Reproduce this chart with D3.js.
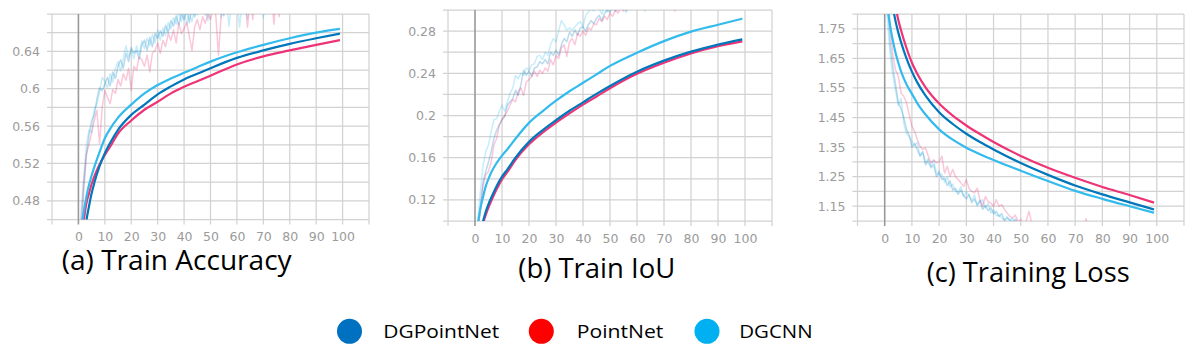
<!DOCTYPE html>
<html><head><meta charset="utf-8">
<script src="https://cdn.jsdelivr.net/npm/d3@7"></script>
<style>body{margin:0;background:#fff}svg{display:block;background:#fff}</style>
</head><body><svg id="chart" width="1198" height="358"></svg>
<script>
// ---------- data ----------
const seriesNames = ["DGPointNet", "PointNet", "DGCNN"];
const legendColors = ["#0070C0", "#FF0000", "#00B0F0"];
const lineColors = ["#0077BB", "#EE3377", "#33BBEE"];
const panelTitles = ["(a) Train Accuracy", "(b) Train IoU", "(c) Training Loss"];
const xTickLabels = [0, 10, 20, 30, 40, 50, 60, 70, 80, 90, 100];
const accTickLabels = [0.48, 0.52, 0.56, 0.6, 0.64];
const iouTickLabels = [0.12, 0.16, 0.2, 0.24, 0.28];
const lossTickLabels = [1.15, 1.25, 1.35, 1.45, 1.55, 1.65, 1.75];

// smoothed curves (read at selected epochs)
const smoothEpochs = [0,1,2,3,4,5,6,8,10,12,15,20,25,30,35,40,45,50,60,70,80,90,99];
const accDGPointNet = [0.36,0.40,0.43,0.458,0.474,0.488,0.499,0.517,0.531,0.542,0.556,0.572,0.583,0.594,0.6025,0.610,0.616,0.622,0.633,0.641,0.648,0.654,0.659];
const accPointNet   = [0.39,0.43,0.458,0.477,0.488,0.498,0.506,0.519,0.529,0.538,0.552,0.566,0.5775,0.586,0.595,0.602,0.608,0.614,0.626,0.6346,0.641,0.647,0.652];
const accDGCNN      = [0.40,0.445,0.468,0.484,0.497,0.507,0.516,0.532,0.547,0.557,0.569,0.583,0.595,0.604,0.611,0.617,0.623,0.629,0.639,0.647,0.654,0.660,0.664];

const iouDGPointNet = [0.06,0.075,0.09,0.1,0.109,0.116,0.122,0.133,0.142,0.149,0.16,0.175,0.186,0.1955,0.2045,0.2125,0.2205,0.228,0.2415,0.252,0.2605,0.2672,0.2722];
const iouPointNet   = [0.06,0.074,0.088,0.098,0.106,0.113,0.119,0.13,0.1395,0.1465,0.158,0.1727,0.1837,0.1932,0.202,0.2103,0.218,0.2258,0.2395,0.25,0.2588,0.2656,0.2702];
const iouDGCNN      = [0.08,0.096,0.112,0.123,0.133,0.14,0.146,0.155,0.162,0.168,0.178,0.193,0.204,0.214,0.223,0.231,0.239,0.247,0.2595,0.2705,0.2795,0.286,0.2918];

const lossEpochs = [0,1,2,3,4,5,6,8,10,12,15,20,25,30,35,40,50,60,70,80,90,99];
const lossDGPointNet = [2.05,1.97,1.9,1.825,1.775,1.737,1.705,1.65,1.605,1.568,1.524,1.468,1.428,1.395,1.367,1.342,1.296,1.256,1.22,1.19,1.163,1.139];
const lossPointNet   = [2.1,2.02,1.95,1.88,1.825,1.78,1.745,1.685,1.635,1.597,1.552,1.497,1.456,1.423,1.394,1.367,1.32,1.28,1.246,1.215,1.188,1.162];
const lossDGCNN      = [1.95,1.83,1.76,1.71,1.668,1.635,1.606,1.562,1.53,1.498,1.46,1.41,1.375,1.348,1.326,1.306,1.27,1.235,1.202,1.175,1.15,1.128];

// raw (unsmoothed) per-epoch values, starting at epoch 0
const accRawDGPointNet = [0.38,0.44,0.49,0.528,0.55,0.566,0.572,0.589,0.601,0.598,0.605,0.612,0.603,0.618,0.611,0.624,0.631,0.622,0.638,0.629,0.644,0.638,0.641,0.632,0.647,0.652,0.641,0.655,0.645,0.659,0.654,0.662,0.656,0.668,0.66,0.673,0.667,0.678,0.668,0.681,0.674,0.684,0.671,0.686,0.677,0.688,0.682,0.691,0.679,0.693,0.686,0.681,0.694,0.687,0.696,0.678,0.692,0.699,0.689,0.7,0.694,0.702,0.687,0.703,0.696,0.705,0.697,0.707,0.7,0.709,0.702,0.71,0.698,0.712,0.705,0.713,0.706,0.715,0.708,0.716];
const accRawPointNet = [0.41,0.455,0.5,0.53,0.54,0.553,0.566,0.577,0.541,0.58,0.598,0.591,0.584,0.599,0.595,0.61,0.603,0.616,0.609,0.622,0.598,0.624,0.62,0.634,0.631,0.624,0.636,0.618,0.638,0.641,0.649,0.638,0.652,0.645,0.659,0.652,0.663,0.649,0.67,0.659,0.664,0.671,0.656,0.641,0.666,0.674,0.663,0.677,0.67,0.68,0.674,0.686,0.679,0.636,0.677,0.688,0.684,0.692,0.686,0.694,0.688,0.696,0.69,0.698,0.666,0.695,0.674,0.7,0.694,0.703,0.697,0.705,0.699,0.706,0.669,0.702,0.677,0.708,0.701,0.71];
const accRawDGCNN = [0.40,0.47,0.505,0.54,0.556,0.553,0.578,0.583,0.596,0.612,0.608,0.601,0.616,0.607,0.622,0.629,0.619,0.633,0.646,0.634,0.642,0.632,0.646,0.637,0.651,0.643,0.654,0.646,0.658,0.649,0.663,0.652,0.665,0.657,0.671,0.664,0.676,0.669,0.683,0.672,0.684,0.669,0.68,0.672,0.687,0.679,0.69,0.681,0.691,0.673,0.689,0.693,0.684,0.696,0.676,0.691,0.697,0.667,0.694,0.688,0.699,0.666,0.692,0.696,0.675,0.698,0.69,0.703,0.693,0.706,0.676,0.699,0.707,0.698,0.709,0.701,0.711,0.703,0.712,0.706];

const iouRawDGPointNet = [0.07,0.09,0.115,0.137,0.147,0.156,0.166,0.178,0.186,0.191,0.196,0.199,0.21,0.213,0.216,0.224,0.219,0.229,0.243,0.238,0.242,0.237,0.245,0.246,0.251,0.249,0.253,0.249,0.26,0.257,0.262,0.257,0.267,0.273,0.27,0.279,0.275,0.281,0.276,0.283,0.284,0.28,0.286,0.29,0.287,0.292,0.295,0.29,0.297,0.3,0.298,0.303,0.299,0.305,0.301,0.307,0.298,0.308,0.304,0.31,0.306,0.312,0.308,0.314,0.31,0.315];
const iouRawPointNet = [0.07,0.088,0.109,0.134,0.144,0.147,0.156,0.172,0.178,0.191,0.196,0.2,0.204,0.21,0.215,0.213,0.223,0.226,0.219,0.232,0.234,0.237,0.242,0.237,0.243,0.24,0.245,0.242,0.253,0.248,0.257,0.254,0.264,0.267,0.256,0.27,0.273,0.267,0.278,0.275,0.28,0.276,0.283,0.281,0.287,0.286,0.292,0.289,0.294,0.291,0.297,0.294,0.3,0.297,0.303,0.299,0.305,0.302,0.307,0.304,0.309,0.306,0.311,0.308,0.313,0.31,0.315,0.312,0.316,0.313,0.318,0.315,0.319,0.316,0.299,0.318];
const iouRawDGCNN = [0.07,0.1,0.128,0.153,0.166,0.172,0.185,0.196,0.197,0.204,0.21,0.204,0.213,0.221,0.226,0.238,0.235,0.24,0.238,0.245,0.243,0.248,0.249,0.256,0.257,0.253,0.26,0.257,0.267,0.273,0.27,0.28,0.29,0.286,0.281,0.283,0.281,0.284,0.287,0.289,0.284,0.295,0.298,0.302,0.299,0.304,0.301,0.296,0.305,0.298,0.307,0.303,0.309,0.305,0.311,0.307,0.313,0.309,0.315,0.311,0.316,0.312,0.318,0.299,0.317,0.3,0.319,0.315,0.321];

const lossRawDGPointNet = [2.05,1.85,1.7,1.62,1.56,1.5,1.48,1.45,1.41,1.39,1.35,1.362,1.34,1.32,1.335,1.29,1.31,1.28,1.29,1.25,1.268,1.24,1.245,1.22,1.235,1.205,1.21,1.19,1.205,1.185,1.175,1.19,1.162,1.175,1.155,1.17,1.14,1.152,1.135,1.145,1.125,1.133,1.115,1.125,1.1,1.11,1.105,1.095,1.106,1.09,1.088,1.092,1.082,1.086,1.078,1.08];
const lossRawPointNet = [2.1,1.9,1.76,1.66,1.61,1.59,1.533,1.522,1.5,1.46,1.42,1.403,1.375,1.353,1.342,1.347,1.32,1.297,1.307,1.297,1.3,1.319,1.262,1.285,1.251,1.274,1.25,1.24,1.229,1.217,1.24,1.21,1.2,1.195,1.211,1.172,1.15,1.183,1.165,1.161,1.15,1.172,1.15,1.155,1.14,1.127,1.116,1.11,1.12,1.098,1.105,1.092,1.1,1.133,1.095,1.09,1.085,1.092,1.082,1.088,1.079,1.085,1.076,1.083,1.074,1.08,1.072,1.078,1.07,1.076,1.068,1.074,1.066,1.072,1.108,1.07,1.064];
const lossRawDGCNN = [2.0,1.78,1.66,1.59,1.54,1.49,1.515,1.43,1.395,1.385,1.37,1.355,1.366,1.32,1.33,1.30,1.295,1.285,1.305,1.265,1.255,1.258,1.23,1.25,1.215,1.224,1.2,1.199,1.216,1.182,1.199,1.185,1.17,1.188,1.15,1.165,1.172,1.144,1.16,1.127,1.138,1.118,1.12,1.11,1.104,1.115,1.098,1.109,1.095,1.09,1.097,1.085,1.088,1.08,1.083,1.076];

// ---------- layout ----------
const panels = [
  { title: panelTitles[0], x0: 52, x1: 369, y0: 14, y1: 219.5, domain: [0.46, 0.68], gridStep: 0.02,
    ticks: accTickLabels, fmt: d3.format(".2~f"), epochs: smoothEpochs,
    smooth: [accDGPointNet, accPointNet, accDGCNN], raw: [accRawDGPointNet, accRawPointNet, accRawDGCNN],
    tx: 61.7, ty: 270, tw: 230 },
  { title: panelTitles[1], x0: 448, x1: 772, y0: 10, y1: 221, domain: [0.10, 0.30], gridStep: 0.02,
    ticks: iouTickLabels, fmt: d3.format(".2~f"), epochs: smoothEpochs,
    smooth: [iouDGPointNet, iouPointNet, iouDGCNN], raw: [iouRawDGPointNet, iouRawPointNet, iouRawDGCNN],
    tx: 518.3, ty: 278, tw: 157 },
  { title: panelTitles[2], x0: 857.5, x1: 1184, y0: 14, y1: 221, domain: [1.10, 1.80], gridStep: 0.05,
    ticks: lossTickLabels, fmt: d3.format(".2f"), epochs: lossEpochs,
    smooth: [lossDGPointNet, lossPointNet, lossDGCNN], raw: [lossRawDGPointNet, lossRawPointNet, lossRawDGCNN],
    tx: 926.7, ty: 282, tw: 203 }
];

const svg = d3.select("#chart");
const tickFont = "DejaVu Sans, sans-serif";
const drawOrder = [1, 0, 2];

panels.forEach((p, pi) => {
  const x = d3.scaleLinear().domain([-10, 110]).range([p.x0, p.x1]);
  const y = d3.scaleLinear().domain(p.domain).range([p.y1, p.y0]);
  const g = svg.append("g");

  // grid
  const nH = Math.round((p.domain[1] - p.domain[0]) / p.gridStep);
  const hVals = d3.range(nH + 1).map(i => p.domain[0] + i * p.gridStep);
  g.selectAll(".hg").data(hVals).join("line")
    .attr("x1", p.x0 - 5).attr("x2", p.x1)
    .attr("y1", d => y(d)).attr("y2", d => y(d))
    .attr("stroke", "#d2d2d2").attr("stroke-width", 1.25);
  const vVals = d3.range(-10, 111, 10);
  g.selectAll(".vg").data(vVals).join("line")
    .attr("x1", d => x(d)).attr("x2", d => x(d))
    .attr("y1", p.y0).attr("y2", p.y1 + 5)
    .attr("stroke", d => d === 0 ? "#999999" : "#d2d2d2")
    .attr("stroke-width", d => d === 0 ? 1.6 : 1.25);

  // clip
  const cid = "clip" + pi;
  svg.append("defs").append("clipPath").attr("id", cid)
    .append("rect").attr("x", p.x0).attr("y", p.y0).attr("width", p.x1 - p.x0).attr("height", p.y1 - p.y0);
  const plot = g.append("g").attr("clip-path", `url(#${cid})`);

  const rawLine = d3.line().x(d => x(d[0])).y(d => y(d[1]));
  const smLine = d3.line().x(d => x(d[0])).y(d => y(d[1])).curve(d3.curveMonotoneX);

  [0, 2, 1].forEach(si => {
    plot.append("path").datum(p.raw[si].map((v, i) => [i, v]))
      .attr("d", rawLine).attr("fill", "none")
      .attr("stroke", lineColors[si]).attr("stroke-opacity", 0.27).attr("stroke-width", 1.5)
      .attr("stroke-linejoin", "round");
  });
  drawOrder.forEach(si => {
    plot.append("path").datum(p.epochs.map((e, i) => [e, p.smooth[si][i]]))
      .attr("d", smLine).attr("fill", "none")
      .attr("stroke", lineColors[si]).attr("stroke-width", 2.2)
      .attr("stroke-linejoin", "round");
  });

  // axes labels
  const yAxis = d3.axisLeft(y).tickValues(p.ticks).tickFormat(p.fmt).tickSize(0).tickPadding(12);
  const ya = g.append("g").attr("transform", `translate(${p.x0},0)`).call(yAxis);
  ya.select(".domain").remove();
  ya.selectAll("text").attr("fill", "#9b9b9b").style("font-family", tickFont).style("font-size", "12.5px");

  const xAxis = d3.axisBottom(x).tickValues(xTickLabels).tickFormat(d3.format("d")).tickSize(0).tickPadding(13);
  const xa = g.append("g").attr("transform", `translate(0,${p.y1})`).call(xAxis);
  xa.select(".domain").remove();
  xa.selectAll("text").attr("fill", "#9b9b9b").style("font-family", tickFont).style("font-size", "12.5px");

  // title
  svg.append("text").attr("x", p.tx).attr("y", p.ty).text(p.title)
    .attr("textLength", p.tw).attr("lengthAdjust", "spacingAndGlyphs")
    .style("font-family", "Open Sans, sans-serif").style("font-size", "27px").attr("fill", "#000");
});

// legend
const legendCircleX = [349.5, 541.3, 707];
const legendTextX = [383.3, 576.7, 739.3];
const legendTextW = [116, 86.7, 73.3];
const lg = svg.append("g");
seriesNames.forEach((n, i) => {
  lg.append("circle").attr("cx", legendCircleX[i]).attr("cy", 331.3).attr("r", 12.5).attr("fill", legendColors[i]);
  lg.append("text").attr("x", legendTextX[i]).attr("y", 337.5).text(n)
    .attr("textLength", legendTextW[i]).attr("lengthAdjust", "spacingAndGlyphs")
    .style("font-family", "Open Sans, sans-serif").style("font-size", "19px").attr("fill", "#000");
});
</script>
</body></html>
